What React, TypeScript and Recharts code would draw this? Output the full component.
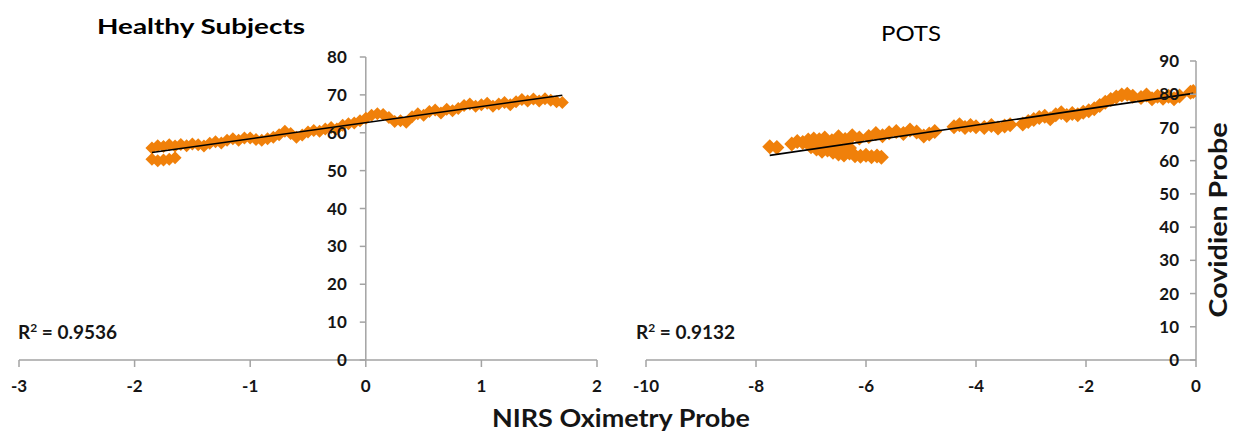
import { ScatterChart, Scatter, XAxis, YAxis, ReferenceLine, ReferenceDot } from 'recharts'

// Healthy Subjects: NIRS (x) vs Covidien (y)
const healthyX = [
  -1.85, -1.8, -1.75, -1.7, -1.65,
  -1.85, -1.8, -1.75, -1.7, -1.65, -1.6, -1.55, -1.5, -1.45, -1.4, -1.35, -1.3, -1.25, -1.2, -1.15,
  -1.1, -1.05, -1.0, -0.95, -0.9, -0.85, -0.8, -0.75, -0.7, -0.65, -0.6, -0.55, -0.5, -0.45, -0.4,
  -0.35, -0.3, -0.25, -0.2, -0.15, -0.1, -0.05, 0, 0.05, 0.1, 0.15, 0.2, 0.25, 0.3, 0.35, 0.4, 0.45,
  0.5, 0.55, 0.6, 0.65, 0.7, 0.75, 0.8, 0.85, 0.9, 0.95, 1.0, 1.05, 1.1, 1.15, 1.2, 1.25, 1.3, 1.35,
  1.4, 1.45, 1.5, 1.55, 1.6, 1.65, 1.7,
]
const healthyY = [
  53.0, 52.6, 52.8, 53.0, 53.4,
  56.0, 56.6, 56.4, 56.8, 56.5, 56.9, 56.6, 57.0, 56.8, 56.5, 57.2, 57.6, 57.3, 58.0, 58.4,
  58.0, 58.6, 58.6, 58.2, 58.0, 58.4, 58.8, 59.5, 60.4, 59.8, 58.8, 59.4, 60.2, 60.6, 60.4,
  61.0, 61.4, 61.0, 62.0, 62.4, 62.6, 63.2, 63.8, 64.6, 65.0, 64.8, 64.0, 63.0, 63.2, 62.8, 64.2, 65.0,
  64.6, 65.6, 66.0, 65.2, 66.2, 65.8, 66.4, 67.2, 67.6, 67.0, 67.4, 67.8, 67.0, 67.6, 68.0, 67.4, 68.2, 68.8,
  68.4, 68.9, 68.4, 69.0, 68.6, 68.2, 68.0,
]

// POTS
const potsX = [
  -7.75, -7.62,
  -7.35, -7.25, -7.15, -7.05, -6.95, -6.85, -6.75, -6.62, -6.5, -6.38, -6.25, -6.12, -5.95, -5.82,
  -5.7, -5.58, -5.45, -5.32, -5.2, -5.08, -4.95, -4.85, -4.75,
  -7.0, -6.9, -6.8, -6.7, -6.6, -6.5, -6.4, -6.3, -6.2, -6.1, -6.0, -5.9, -5.8, -5.72, -6.7, -6.5, -6.3,
  -4.4, -4.3, -4.2, -4.1, -4.0, -3.85, -3.72, -3.6, -3.48, -3.38,
  -3.15, -3.05, -2.95, -2.85, -2.75, -2.65, -2.55, -2.45, -2.35, -2.25, -2.15, -2.05, -1.95, -1.85,
  -1.75, -1.65, -1.55, -1.45, -1.35, -1.25, -1.15, -1.0, -0.9, -0.8, -0.7, -0.6, -0.5, -0.4, -0.3,
  -0.1, -0.05,
]
const potsY = [
  64.2, 64.0,
  65.0, 65.8, 65.5, 66.2, 66.5, 66.3, 66.8, 66.0, 67.2, 66.4, 67.5, 66.8, 67.3, 68.2,
  67.5, 68.4, 68.8, 68.2, 69.2, 68.6, 67.4, 68.0, 68.8,
  64.2, 63.5, 62.8, 63.2, 62.5, 62.0, 61.7, 62.3, 61.5, 61.3, 61.6, 61.2, 61.4, 61.0, 64.5, 64.0, 63.8,
  70.2, 70.8, 70.0, 70.6, 70.2, 70.0, 70.6, 69.8, 70.4, 70.8,
  71.0, 71.8, 72.4, 73.0, 73.4, 72.6, 73.8, 74.4, 73.6, 74.2, 73.8, 74.6, 75.0, 75.6,
  76.6, 77.6, 78.4, 79.2, 79.8, 80.0, 79.4, 79.0, 79.8, 78.6, 79.4, 78.8, 79.4, 78.6, 79.5,
  80.6, 80.8,
]

const healthyXTicks = [-3, -2, -1, 0, 1, 2]
const healthyYTicks = [0, 10, 20, 30, 40, 50, 60, 70, 80]
const potsXTicks = [-10, -8, -6, -4, -2, 0]
const potsYTicks = [0, 10, 20, 30, 40, 50, 60, 70, 80, 90]

const ORANGE = '#F0800A'
const AXIS = '#a3a3a3'
const INK = '#151515'
const FONT = 'Lato, "Open Sans", sans-serif'

function toPoints(xs: number[], ys: number[]) {
  return xs.map((x, i) => ({ x, y: ys[i] }))
}

// least squares fit, drawn across the data's x range (like an Excel trendline)
function trend(pts: { x: number; y: number }[]) {
  const n = pts.length
  const mx = pts.reduce((s, p) => s + p.x, 0) / n
  const my = pts.reduce((s, p) => s + p.y, 0) / n
  let sxy = 0
  let sxx = 0
  pts.forEach((p) => {
    sxy += (p.x - mx) * (p.y - my)
    sxx += (p.x - mx) * (p.x - mx)
  })
  const b = sxy / sxx
  const a = my - b * mx
  const x0 = Math.min(...pts.map((p) => p.x))
  const x1 = Math.max(...pts.map((p) => p.x))
  return [
    { x: x0, y: a + b * x0 },
    { x: x1, y: a + b * x1 },
  ]
}

const healthy = toPoints(healthyX, healthyY)
const pots = toPoints(potsX, potsY)

const diamond = (half: number) => (props: any) => {
  const { cx, cy } = props
  if (cx == null || cy == null) return <g />
  return (
    <polygon
      points={`${cx},${cy - half} ${cx + half},${cy} ${cx},${cy + half} ${cx - half},${cy}`}
      fill={ORANGE}
    />
  )
}

const noDot = () => <g />

// y axis tick + label drawn at a given point, used where the y axis crosses at x = 0
const yTick = (len: number, gap: number) => (props: any) => {
  const { cx, cy, payload } = props
  return (
    <g>
      <line x1={cx - len} x2={cx} y1={cy} y2={cy} stroke={AXIS} strokeWidth={1.5} />
      <text
        x={cx - gap}
        y={cy}
        dy="0.36em"
        textAnchor="end"
        fontFamily={FONT}
        fontWeight={700}
        fontSize={17}
        fill={INK}
      >
        {payload}
      </text>
    </g>
  )
}

const xTickStyle = { fill: INK, fontSize: 17, fontWeight: 700, fontFamily: FONT }

function Panel(props: {
  data: { x: number; y: number }[]
  xDomain: [number, number]
  yDomain: [number, number]
  xTicks: number[]
  yTicks: number[]
  width: number
  margin: { top: number; right: number; bottom: number; left: number }
  half: number
  tickGap: number
}) {
  const fit = trend(props.data)
  const TickShape = yTick(6, props.tickGap)
  return (
    <ScatterChart width={props.width} height={432} margin={props.margin}>
      <XAxis
        type="number"
        dataKey="x"
        domain={props.xDomain}
        ticks={props.xTicks}
        allowDataOverflow
        axisLine={{ stroke: AXIS, strokeWidth: 1.5 }}
        tickLine={{ stroke: AXIS, strokeWidth: 1.5 }}
        tickSize={7}
        tickMargin={13}
        tick={xTickStyle}
        height={30}
      />
      <YAxis type="number" dataKey="y" domain={props.yDomain} ticks={props.yTicks} allowDataOverflow hide />
      <ReferenceLine x={0} stroke={AXIS} strokeWidth={1.5} ifOverflow="visible" />
      <Scatter data={props.data} shape={diamond(props.half)} isAnimationActive={false} />
      <Scatter
        data={fit}
        shape={noDot}
        line={{ stroke: '#000', strokeWidth: 1.6 }}
        isAnimationActive={false}
      />
      {props.yTicks.map((t) => (
        <ReferenceDot
          key={t}
          x={0}
          y={t}
          r={0}
          ifOverflow="visible"
          shape={(p: any) => <TickShape {...p} payload={t} />}
        />
      ))}
    </ScatterChart>
  )
}

export default function App() {
  return (
    <div style={{ position: 'absolute', left: 0, top: 0, width: 1233, height: 432, background: '#fff' }}>
      <div style={{ position: 'absolute', left: 0, top: 0 }}>
        <Panel
          data={healthy}
          xDomain={[-3, 2]}
          yDomain={[0, 80]}
          xTicks={healthyXTicks}
          yTicks={healthyYTicks}
          width={620}
          margin={{ top: 57, right: 23, bottom: 42, left: 19 }}
          half={6.5}
          tickGap={19}
        />
      </div>
      <div style={{ position: 'absolute', left: 620, top: 0 }}>
        <Panel
          data={pots}
          xDomain={[-10, 0]}
          yDomain={[0, 90]}
          xTicks={potsXTicks}
          yTicks={potsYTicks}
          width={613}
          margin={{ top: 61, right: 37, bottom: 42, left: 26 }}
          half={7.5}
          tickGap={17}
        />
      </div>
      <svg
        width={1233}
        height={432}
        style={{ position: 'absolute', left: 0, top: 0, pointerEvents: 'none' }}
      >
        <text x={97} y={34} fontFamily={FONT} fontWeight={700} fontSize={21} fill="#000" textLength={208} lengthAdjust="spacingAndGlyphs">
          Healthy Subjects
        </text>
        <text x={881} y={41} fontFamily={FONT} fontWeight={400} fontSize={22} fill="#000" textLength={60} lengthAdjust="spacingAndGlyphs">
          POTS
        </text>
        <text x={18} y={339} fontFamily={FONT} fontWeight={700} fontSize={19} fill={INK}>
          R<tspan fontSize={12} dy={-7}>2</tspan>
          <tspan dy={7}> = 0.9536</tspan>
        </text>
        <text x={636} y={339} fontFamily={FONT} fontWeight={700} fontSize={19} fill={INK}>
          R<tspan fontSize={12} dy={-7}>2</tspan>
          <tspan dy={7}> = 0.9132</tspan>
        </text>
        <text x={492} y={427} fontFamily={FONT} fontWeight={700} fontSize={25} fill={INK} textLength={258} lengthAdjust="spacingAndGlyphs">
          NIRS Oximetry Probe
        </text>
        <text
          x={1227}
          y={220}
          transform="rotate(-90 1227 220)"
          textAnchor="middle"
          fontFamily={FONT}
          fontWeight={700}
          fontSize={24}
          fill={INK}
          textLength={195}
          lengthAdjust="spacingAndGlyphs"
        >
          Covidien Probe
        </text>
      </svg>
    </div>
  )
}
